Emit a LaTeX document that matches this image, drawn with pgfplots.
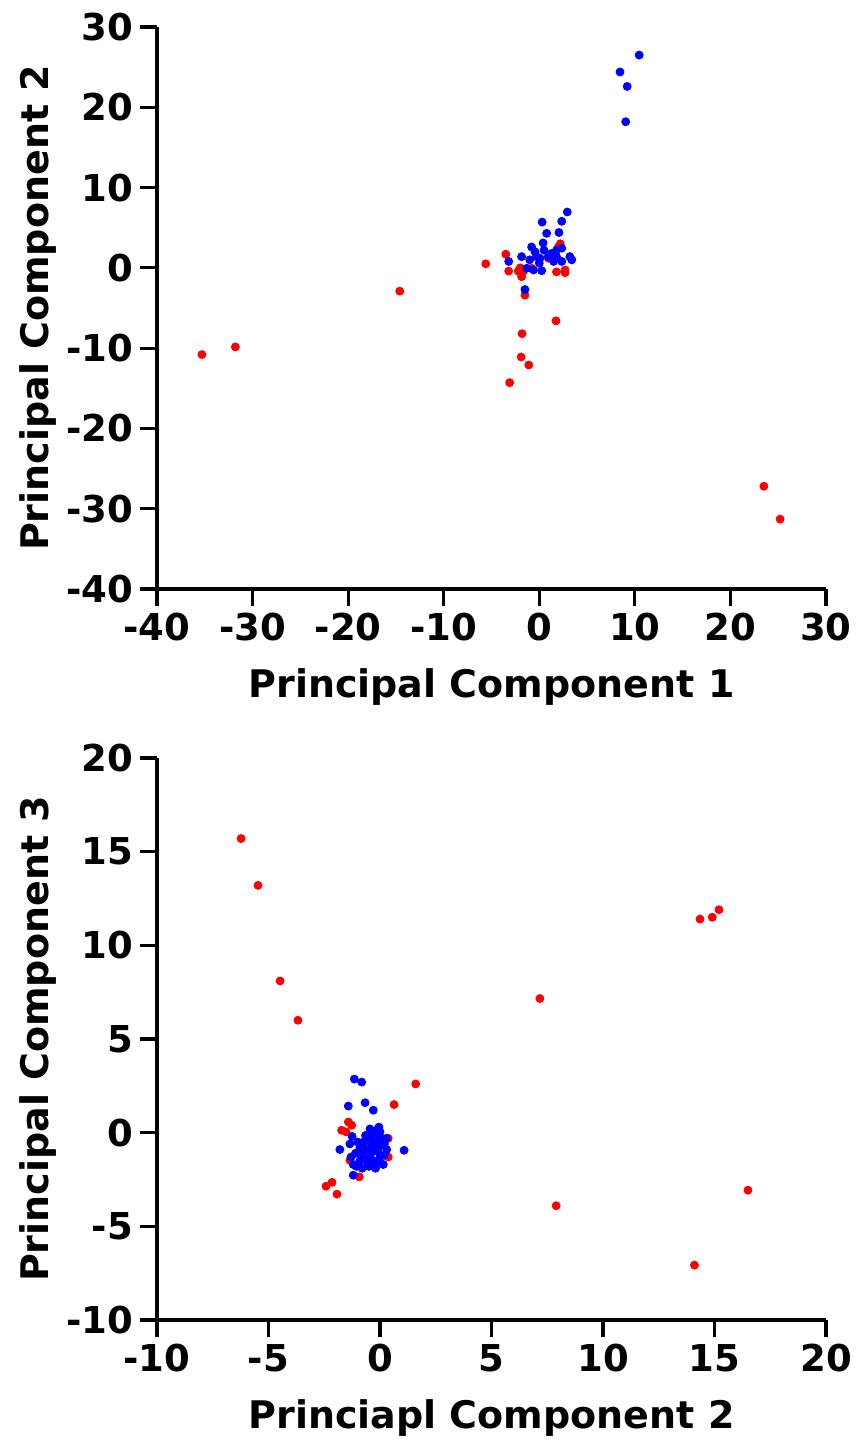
\documentclass[border=0pt]{standalone}
\usepackage{fontspec}
\setmainfont{DejaVu Sans}
\usepackage{pgfplots}
\pgfplotsset{compat=1.18}

\pgfplotsset{
  pcastyle/.style={
    scale only axis,
    width=334.5pt, height=281pt,
    axis x line=bottom, axis y line=left,
    axis line style={-, line width=1.6pt},
    major tick style={line width=1.6pt, black},
    tick align=outside, major tick length=8.5pt,
    tick label style={font=\fontsize{18.5}{22}\selectfont\bfseries},
    label style={font=\fontsize{19}{22}\selectfont\bfseries},
    xlabel style={yshift=-7pt},
    ylabel style={yshift=-2pt},
    /pgf/number format/assume math mode=true,
    clip=false,
  },
  redpts/.style={only marks, mark=*, mark size=2pt, color={rgb,255:red,255;green,0;blue,0}},
  bluepts/.style={only marks, mark=*, mark size=2pt, color={rgb,255:red,0;green,0;blue,255}},
}

\begin{document}
\begin{tikzpicture}
% page frame matching the reference (origin = lower left of the upper axis)
\useasboundingbox (-78.5pt,-425.5pt) rectangle (350.5pt,294.5pt);

\begin{axis}[pcastyle,
  at={(0,0)}, anchor=south west,
  xmin=-40, xmax=30, ymin=-40, ymax=30,
  xtick={-40,-30,...,30}, ytick={-40,-30,...,30},
  xlabel={Principal Component 1}, ylabel={Principal Component 2},
]
\addplot[redpts] coordinates {
(-35.3,-10.8) (-31.8,-9.85) (-14.6,-2.9) (-5.6,0.5) (-1.8,-8.2) (-1.9,-11.1)
(-1.1,-12.1) (-3.1,-14.3) (1.75,-6.6) (23.5,-27.2) (25.2,-31.3) (-1.5,-3.4)
(-3.5,1.7) (-3.2,-0.4) (-2.2,-0.4) (-1.85,-1.1) (-1.7,-0.5) (-0.8,-0.05)
(1.8,-0.5) (2.7,-0.26) (2.7,-0.6) (2.0,2.6) (2.2,3.0) (0.95,1.2) (-2.0,0.0)
};
\addplot[bluepts] coordinates {
(10.45,26.5) (8.45,24.4) (9.2,22.6) (9.04,18.2)
(2.93,6.96) (2.35,5.8) (0.3,5.7) (0.77,4.3) (2.06,4.4) (-0.8,2.6) (0.4,3.1)
(0.5,2.2) (1.3,1.8) (1.8,2.2) (2.35,2.45) (3.2,1.4) (3.4,1.0) (-1.85,1.4)
(-1.0,1.0) (-0.3,1.4) (0.07,1.2) (0.95,1.4) (1.5,0.8) (2.35,0.8) (-3.2,0.8)
(-1.3,-0.05) (-0.6,-0.26) (0.25,-0.35) (-1.5,-2.7) (-0.45,2.0) (0.0,0.6) (1.8,1.4)
};
\end{axis}

\begin{axis}[pcastyle,
  at={(0,-365.5pt)}, anchor=south west,
  xmin=-10, xmax=20, ymin=-10, ymax=20,
  xtick={-10,-5,...,20}, ytick={-10,-5,...,20},
  xlabel={Princiapl Component 2}, ylabel={Principal Component 3},
]
\addplot[redpts] coordinates {
(-6.23,15.7) (-5.47,13.2) (-4.48,8.1) (-3.68,6.0) (7.17,7.16) (14.35,11.4)
(14.9,11.5) (15.2,11.9) (1.6,2.6) (0.63,1.5) (7.9,-3.9) (16.5,-3.07)
(14.1,-7.07) (-2.42,-2.86) (-2.15,-2.65) (-1.93,-3.28)
(-1.42,0.57) (-1.72,0.13) (-1.52,0.04) (-1.27,0.4) (0.37,-0.3) (0.37,-1.3)
(-1.35,-1.47) (-0.93,-2.36) (-0.67,-0.4) (-0.2,-0.5) (-0.9,-1.0)
};
\addplot[bluepts] coordinates {
(-1.15,2.86) (-0.82,2.7) (-1.42,1.42) (-0.67,1.6) (-0.3,1.2) (-1.8,-0.9)
(1.08,-0.94) (-1.2,-2.27)
(-0.2,0.1) (0.0,0.05) (-0.4,0.0) (-0.1,-0.2) (0.1,-0.3) (-0.3,-0.4) (-0.5,-0.3)
(-0.7,-0.5) (-1.0,-0.5) (-0.9,-0.8) (-0.6,-0.9) (-0.3,-0.8) (0.0,-0.7) (0.2,-0.6)
(0.3,-0.9) (-0.1,-1.0) (-0.4,-1.1) (-0.8,-1.2) (-1.1,-1.1) (-1.3,-1.3) (-1.2,-1.7)
(-0.9,-1.5) (-0.6,-1.4) (-0.3,-1.5) (0.0,-1.3) (0.2,-1.2) (-0.5,-1.8) (-0.2,-1.9)
(-0.8,-1.9) (-1.05,-1.8) (-0.1,-1.6) (0.15,-1.7) (-0.65,-0.15) (-0.35,-0.65)
(-0.75,-1.0) (-1.35,-0.6) (-0.15,-0.45) (0.3,-0.3) (-0.55,-1.6) (-1.25,-0.2)
(-0.45,0.2) (-0.05,0.3)
};
\end{axis}
\end{tikzpicture}
\end{document}
